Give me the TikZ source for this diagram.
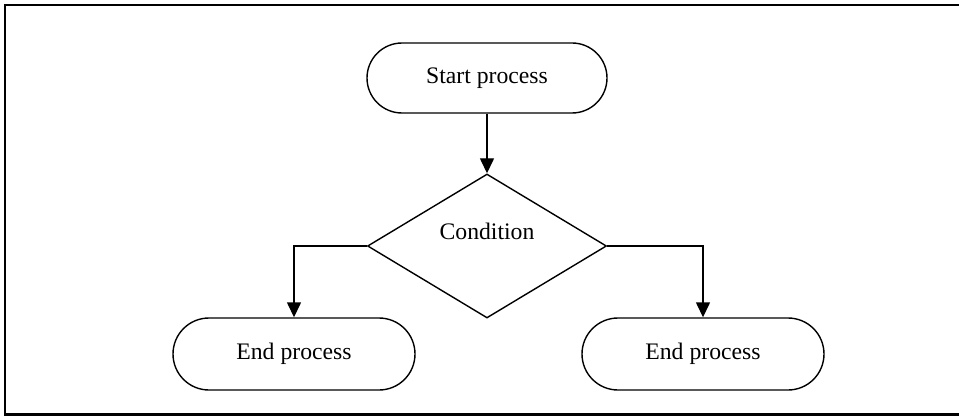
\documentclass[tikz,border=0pt]{standalone}
\usepackage{fontspec}
\setmainfont{Liberation Serif}
\usetikzlibrary{shapes.geometric,arrows.meta}
\tikzset{
  term/.style={draw, line width=1.4pt, rectangle, rounded corners=35pt, minimum width=240pt, minimum height=70pt, inner sep=0pt, font=\fontsize{23.7}{28}\selectfont},
  decision/.style={draw, line width=1.4pt, diamond, minimum width=239pt, minimum height=144pt, inner sep=0pt},
  arr/.style={line width=1.4pt, -{Triangle[length=15pt,width=14pt]}},
  frame/.style={draw, line width=2.2pt}
}
\begin{document}
\begin{tikzpicture}[x=1pt,y=-1pt]
\useasboundingbox (0,0) rectangle (959,417);
\begin{scope}
\clip (0,0) rectangle (959,417);
\draw[frame] (5,5) rectangle (970,414.5);
\end{scope}
\node[term] (start) at (487,78) {Start process};
\node[decision, label={[font=\fontsize{23.7}{28}\selectfont, yshift=15pt]center:Condition}] (cond) at (487,246) {};
\node[term, minimum width=242pt, minimum height=72pt, rounded corners=36pt] (endl) at (294,354) {End process};
\node[term, minimum width=242pt, minimum height=72pt, rounded corners=36pt] (endr) at (703,354) {End process};
\draw[arr] (start) -- (cond);
\draw[arr] (cond.west) -| (endl.north);
\draw[arr] (cond.east) -| (endr.north);
\end{tikzpicture}
\end{document}
